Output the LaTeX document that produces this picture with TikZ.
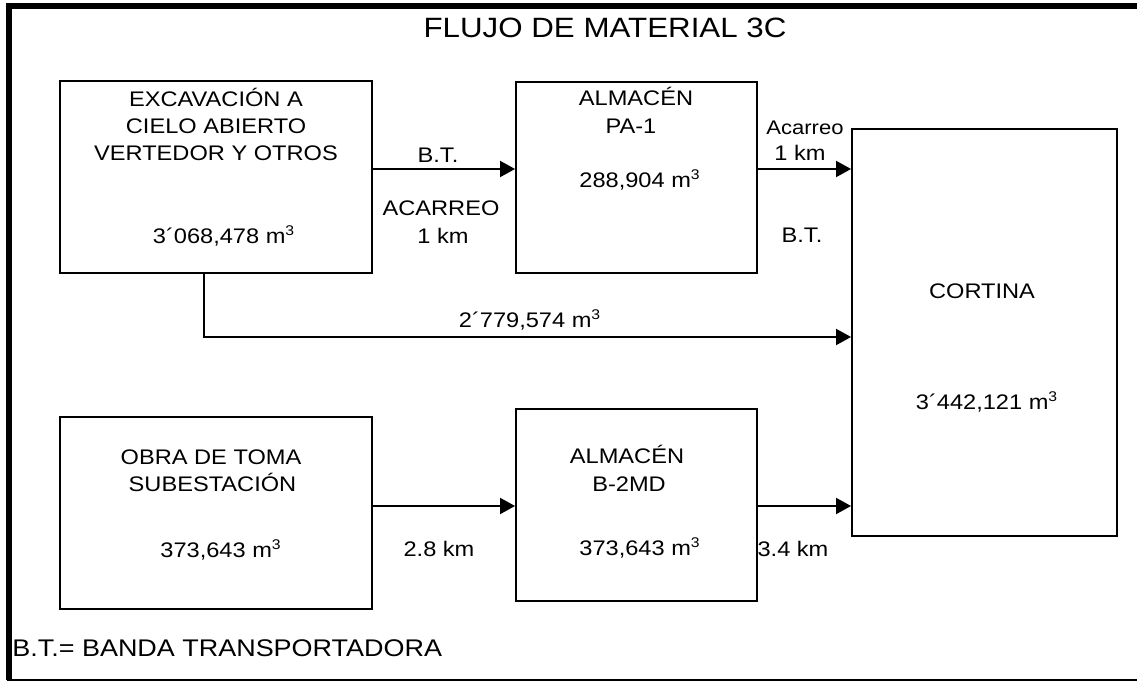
\documentclass[tikz,border=0pt]{standalone}
\usepackage{fontspec}
\setmainfont{Liberation Sans}[FakeStretch=1.12]
\usepackage{tikz}
\usetikzlibrary{arrows.meta,positioning}
\tikzstyle{block}=[draw,line width=1.1pt,inner sep=0pt]
\tikzstyle{txt}=[anchor=base,inner sep=0pt,font=\fontsize{12}{14}\selectfont]
\tikzstyle{ttl}=[anchor=base,inner sep=0pt,font=\fontsize{15.9}{19}\selectfont]
\tikzstyle{flow}=[line width=1.1pt,-{Triangle[length=3mm,width=3.2mm]}]

\begin{document}
\begin{tikzpicture}[x=0.02cm,y=-0.02cm]
\useasboundingbox (0,0) rectangle (1137,682);
% marco
\draw[line width=2.85pt] (9,680) -- (9,6) -- (1137,6);
\draw[line width=1.1pt] (7,680) -- (1137,680);
\draw (605,38) node [ttl] (titulo) {FLUJO DE MATERIAL 3C};
% bloques
\draw (216,177) node [block, minimum width=6.24cm, minimum height=3.84cm] (exc) {};
\draw (636.5,177.5) node [block, minimum width=4.82cm, minimum height=3.82cm] (pa1) {};
\draw (984.5,332.5) node [block, minimum width=5.3cm, minimum height=8.14cm] (cortina) {};
\draw (216,513) node [block, minimum width=6.24cm, minimum height=3.84cm] (obra) {};
\draw (636.5,505) node [block, minimum width=4.82cm, minimum height=3.84cm] (b2md) {};
% textos
\draw (216,107) node [txt] (exc1) {EXCAVACIÓN A};
\draw (216,134) node [txt] (exc2) {CIELO ABIERTO};
\draw (216,161) node [txt] (exc3) {VERTEDOR Y OTROS};
\draw (224,243.5) node [txt] (excv) {3´068,478 m\textsuperscript{3}};
\draw (636,106) node [txt] (pa1a) {ALMACÉN};
\draw (631,133.5) node [txt] (pa1b) {PA-1};
\draw (640,187.5) node [txt] (pa1v) {288,904 m\textsuperscript{3}};
\draw (982,298.5) node [txt] (cort1) {CORTINA};
\draw (987,409.5) node [txt] (cortv) {3´442,121 m\textsuperscript{3}};
\draw (211,464.5) node [txt] (obra1) {OBRA DE TOMA};
\draw (212.5,491.5) node [txt] (obra2) {SUBESTACIÓN};
\draw (221,557.5) node [txt] (obrav) {373,643 m\textsuperscript{3}};
\draw (627,463.5) node [txt] (b2a) {ALMACÉN};
\draw (629,491.5) node [txt] (b2b) {B-2MD};
\draw (640,555.5) node [txt] (b2v) {373,643 m\textsuperscript{3}};
% flechas
\coordinate (r1) at (0,169);
\coordinate (r2) at (0,506);
\coordinate (c1) at (204,337);
\draw[flow] (exc.east |- r1) -- (pa1.west |- r1);
\draw[flow] (pa1.east |- r1) -- (cortina.west |- r1);
\draw[flow] (exc.south -| c1) -- (c1) -- (cortina.west |- c1);
\draw[flow] (obra.east |- r2) -- (b2md.west |- r2);
\draw[flow] (b2md.east |- r2) -- (cortina.west |- r2);
% rotulos de las flechas
\draw (438,162.5) node [txt] (bt1) {B.T.};
\draw (441,215.5) node [txt] (aca1) {ACARREO};
\draw (443,243.5) node [txt] (km1) {1 km};
\draw (805,134.5) node [txt, font=\fontsize{11.2}{13}\selectfont] (aca2) {Acarreo};
\draw (800,160.5) node [txt] (km2) {1 km};
\draw (802,242.5) node [txt] (bt2) {B.T.};
\draw (530,327.5) node [txt] (vol) {2´779,574 m\textsuperscript{3}};
\draw (439,556.5) node [txt] (km3) {2.8 km};
\draw (793,556.5) node [txt] (km4) {3.4 km};
\draw (12,656) node [txt, anchor=base west, font=\fontsize{13.7}{16}\selectfont] (nota) {B.T.= BANDA TRANSPORTADORA};
\end{tikzpicture}
\end{document}
